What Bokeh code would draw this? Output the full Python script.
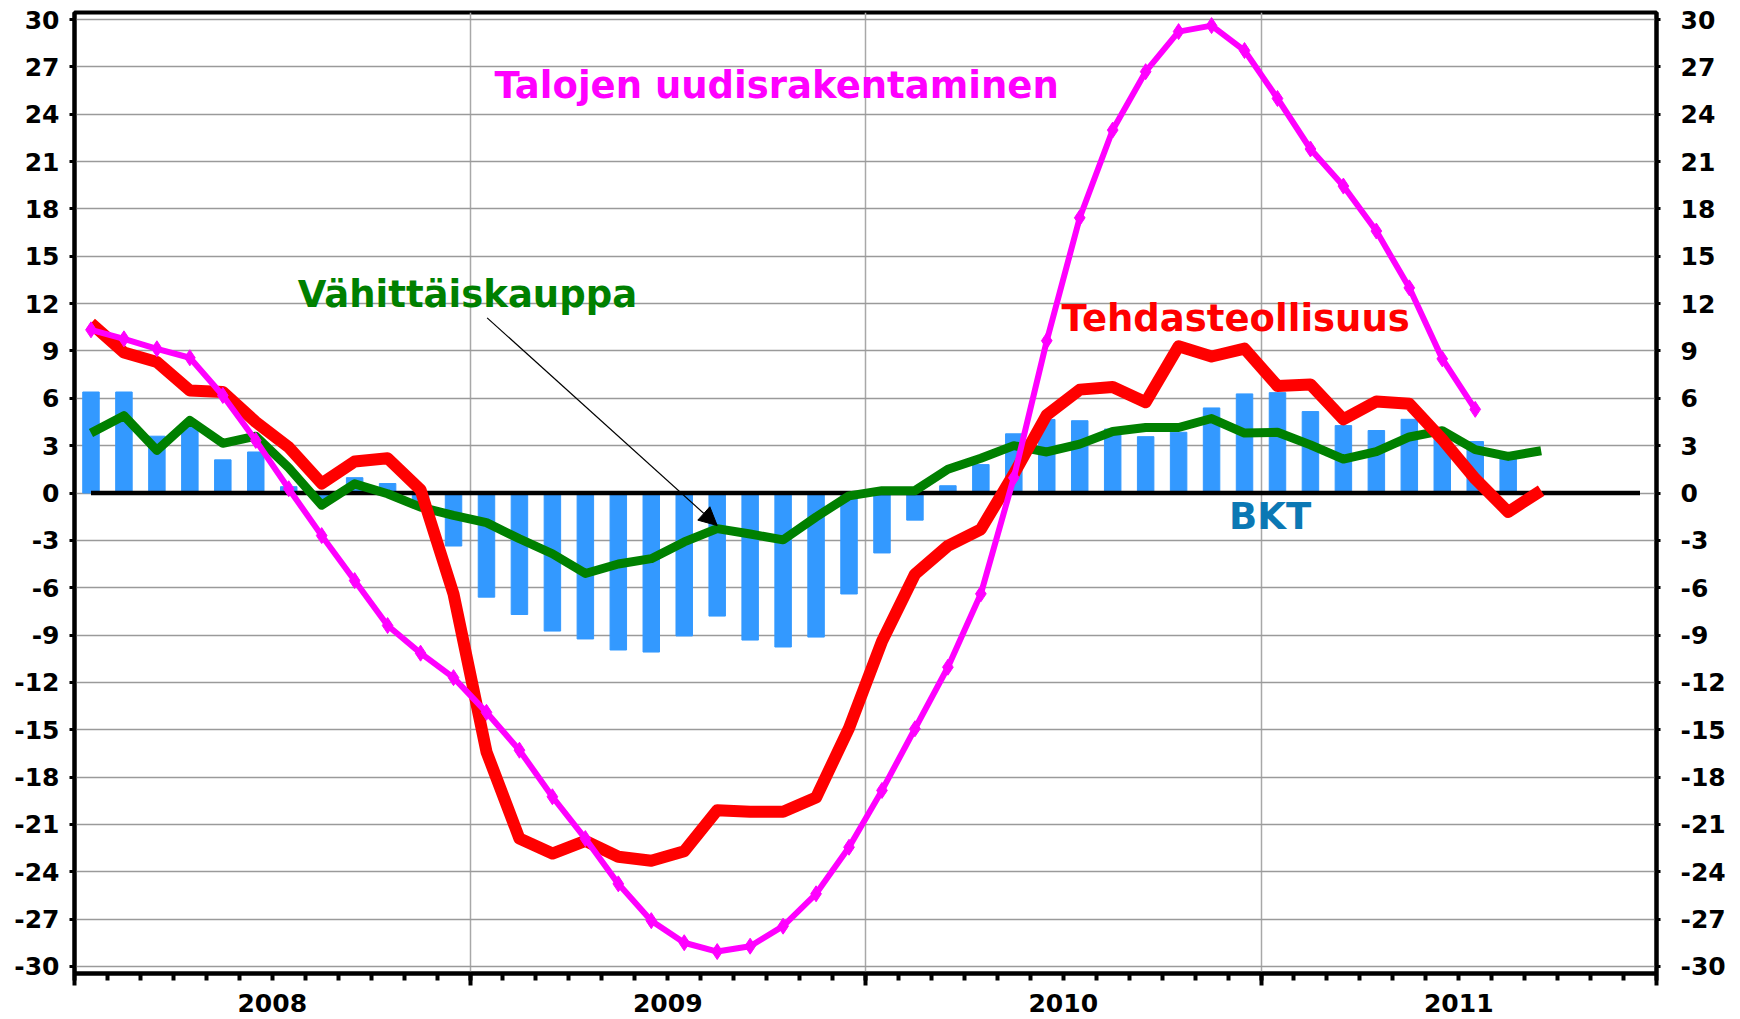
from bokeh.plotting import figure
from bokeh.models import (Range1d, LinearAxis, FixedTicker, Label, Arrow, NormalHead,
                          ColumnDataSource, CustomLabelingPolicy)
from bokeh.embed import file_html
from bokeh.resources import INLINE

# ---------------- data ----------------
years = ["2008", "2009", "2010", "2011"]
months = [f"{y}-{m:02d}" for y in (2008, 2009, 2010, 2011) for m in range(1, 13)]

ytick_values = [-30, -27, -24, -21, -18, -15, -12, -9, -6, -3, 0, 3, 6, 9, 12, 15, 18, 21, 24, 27, 30]
ytick_labels = ["-30", "-27", "-24", "-21", "-18", "-15", "-12", "-9", "-6", "-3", "0",
                "3", "6", "9", "12", "15", "18", "21", "24", "27", "30"]

# BKT (GDP indicator), Jan 2008 - Aug 2011
bkt = [6.4, 6.4, 3.6, 4.2, 2.1, 2.6, 0.4, -0.4, 0.97, 0.6, -0.5, -3.36,
       -6.6, -7.7, -8.75, -9.25, -9.95, -10.08, -9.06, -7.8, -9.32, -9.76, -9.13, -6.4,
       -3.8, -1.72, 0.46, 1.8, 3.75, 4.66, 4.58, 4.05, 3.57, 3.85, 5.39, 6.28,
       6.36, 5.16, 4.27, 3.96, 4.67, 3.7, 3.26, 2.3]

# Tehdasteollisuus, Jan 2008 - Sep 2011
tehdas = [10.75, 8.9, 8.3, 6.5, 6.4, 4.5, 2.9, 0.6, 2.0, 2.2, 0.2, -6.4,
          -16.4, -21.9, -22.85, -22.05, -23.05, -23.3, -22.7, -20.1, -20.2, -20.2, -19.3, -14.9,
          -9.4, -5.15, -3.35, -2.3, 1.2, 4.95, 6.55, 6.72, 5.75, 9.3, 8.65, 9.15,
          6.78, 6.88, 4.67, 5.8, 5.65, 3.4, 0.9, -1.2, 0.15]

# Vähittäiskauppa, Jan 2008 - Sep 2011
vahittais = [3.8, 4.9, 2.7, 4.6, 3.15, 3.6, 1.6, -0.77, 0.58, -0.05, -0.9, -1.42,
             -1.88, -2.9, -3.85, -5.1, -4.5, -4.16, -3.1, -2.26, -2.6, -2.97, -1.52, -0.18,
             0.15, 0.15, 1.5, 2.2, 3.0, 2.6, 3.1, 3.9, 4.15, 4.15, 4.72, 3.8,
             3.85, 3.05, 2.15, 2.62, 3.55, 3.95, 2.75, 2.32, 2.68]

# Talojen uudisrakentaminen, Jan 2008 - Jul 2011
talojen = [10.34, 9.77, 9.14, 8.57, 6.18, 3.33, 0.27, -2.7, -5.55, -8.4, -10.15, -11.7,
           -13.9, -16.3, -19.25, -21.9, -24.77, -27.1, -28.5, -29.06, -28.72, -27.45, -25.4, -22.45,
           -18.85, -14.94, -11.04, -6.39, 0.97, 9.65, 17.44, 23.0, 26.7, 29.24, 29.62, 28.04,
           25.0, 21.8, 19.45, 16.6, 13.0, 8.5, 5.3]

zero_line = [0] * len(months)

# ---------------- figure ----------------
FONT = "DejaVu Sans"
YMIN, YMAX = -30.45, 30.45

p = figure(width=1740, height=1019, output_backend="svg", toolbar_location=None,
           x_range=Range1d(0, len(months)), y_range=Range1d(YMIN, YMAX),
           min_border_left=74, min_border_right=84, min_border_top=12, min_border_bottom=46,
           background_fill_color="white", border_fill_color="white")

p.outline_line_color = "black"
p.outline_line_width = 4

# grids
p.ygrid.ticker = FixedTicker(ticks=ytick_values)
p.xgrid.ticker = FixedTicker(ticks=[12 * k for k in range(1, len(years))])
p.ygrid.grid_line_color = "#9a9a9a"
p.xgrid.grid_line_color = "#a8a8a8"
p.ygrid.grid_line_width = 1.5
p.xgrid.grid_line_width = 1.5

# bottom axis: year boundaries (long ticks) + monthly minor ticks, tick labels suppressed
xa = p.xaxis[0]
xa.ticker = FixedTicker(ticks=[12 * k for k in range(len(years) + 1)],
                        minor_ticks=list(range(len(months) + 1)))
xa.major_tick_out = 12
xa.major_tick_in = 0
xa.minor_tick_out = 7
xa.minor_tick_in = 0
xa.major_tick_line_width = 4
xa.minor_tick_line_width = 4
xa.axis_line_width = 4
xa.major_label_text_font_size = "1px"
xa.major_label_standoff = 0
xa.major_label_policy = CustomLabelingPolicy(code="for (const i of indices) { indices.unset(i) }")

# second bottom axis: year names centred in each year
xb = LinearAxis(ticker=FixedTicker(ticks=[12 * k + 6 for k in range(len(years))], minor_ticks=[]),
                major_label_overrides={12 * k + 6: yr for k, yr in enumerate(years)},
                axis_line_color=None, major_tick_line_color=None, minor_tick_line_color=None,
                major_tick_out=0, major_tick_in=0, minor_tick_out=0, minor_tick_in=0,
                major_label_standoff=4, major_label_text_font=FONT,
                major_label_text_font_style="bold", major_label_text_font_size="25px",
                major_label_text_color="black")
p.add_layout(xb, "below")

# left axis
ya = p.yaxis[0]
ya.ticker = FixedTicker(ticks=ytick_values)
ya.major_label_overrides = {v: s for v, s in zip(ytick_values, ytick_labels)}
ya.major_tick_out = 5
ya.major_tick_in = 0
ya.minor_tick_out = 0
ya.minor_tick_in = 0
ya.major_tick_line_width = 3
ya.axis_line_width = 4
ya.major_label_standoff = 10
ya.major_label_text_font = FONT
ya.major_label_text_font_style = "bold"
ya.major_label_text_font_size = "25px"
ya.major_label_text_color = "black"

# right axis
ra = LinearAxis(ticker=FixedTicker(ticks=ytick_values),
                major_label_overrides={v: s for v, s in zip(ytick_values, ytick_labels)},
                major_tick_out=4, major_tick_in=0, minor_tick_out=0, minor_tick_in=0,
                major_tick_line_width=3, axis_line_width=4, major_label_standoff=20,
                major_label_text_font=FONT, major_label_text_font_style="bold",
                major_label_text_font_size="25px", major_label_text_color="black")
p.add_layout(ra, "right")

# ---------------- glyphs ----------------
src_bkt = ColumnDataSource(dict(x=[i + 0.5 for i in range(len(bkt))], y=bkt))
p.vbar(x="x", top="y", bottom=0, width=0.5, source=src_bkt, color="#3399FF")

p.line([i + 0.5 for i in range(len(zero_line))], zero_line, line_color="black", line_width=4.5)

p.line([i + 0.5 for i in range(len(vahittais))], vahittais, line_color="#008000",
       line_width=9, line_join="round")
p.line([i + 0.5 for i in range(len(tehdas))], tehdas, line_color="#FF0000",
       line_width=12, line_join="round")
xt = [i + 0.5 for i in range(len(talojen))]
p.line(xt, talojen, line_color="#FF00FF", line_width=6, line_join="round")
p.scatter(xt, talojen, marker="diamond", size=16, color="#FF00FF")

# ---------------- annotations ----------------
def add_text(x, y, text, color, size="37px"):
    p.add_layout(Label(x=x, y=y, text=text, text_color=color, text_font=FONT,
                       text_font_style="bold", text_font_size=size,
                       text_align="left", text_baseline="alphabetic"))

add_text(12.74, 25.85, "Talojen uudisrakentaminen", "#FF00FF")
add_text(6.77, 12.6, "Vähittäiskauppa", "#008000", "37px")
add_text(29.95, 11.05, "Tehdasteollisuus", "#FF0000")
add_text(35.03, -1.5, "BKT", "#0B78B4")

p.add_layout(Arrow(end=NormalHead(size=18, fill_color="black", line_color="black"),
                   x_start=12.52, y_start=11.1, x_end=19.5, y_end=vahittais[19] + 0.2,
                   line_color="black", line_width=1.2))

open("out.html", "w").write(file_html(p, INLINE))
